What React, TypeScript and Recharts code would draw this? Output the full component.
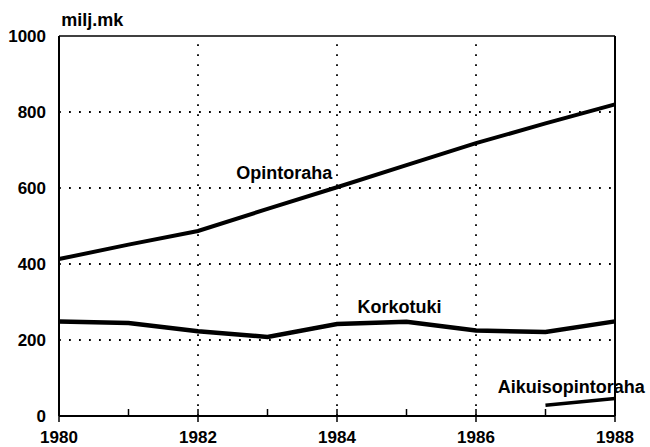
import React from "react";
import { LineChart, Line, XAxis, YAxis, ReferenceLine, ReferenceDot } from "recharts";

const years = [1980, 1981, 1982, 1983, 1984, 1985, 1986, 1987, 1988];
const opintoraha = [413, 451, 487, 545, 602, 660, 718, 770, 820];
const korkotuki = [249, 245, 223, 208, 242, 248, 225, 221, 249];
const aikuisopintoraha: (number | null)[] = [null, null, null, null, null, null, null, 28, 46];
const yTicks = [0, 200, 400, 600, 800, 1000];
const xLabelYears = [1980, 1982, 1984, 1986, 1988];
const gridYears = [1982, 1984, 1986];
const gridValues = [200, 400, 600, 800];

const data = years.map((y, i) => ({
  year: y,
  opintoraha: opintoraha[i],
  korkotuki: korkotuki[i],
  aikuis: aikuisopintoraha[i],
}));

const FONT = "'Liberation Sans', Arial, Helvetica, sans-serif";

const XTick = (props: any) => {
  const { x, y, payload } = props;
  const v = payload.value;
  const major = xLabelYears.includes(v);
  return (
    <g>
      <line x1={x} x2={x} y1={y - 7} y2={major ? y + 6 : y} stroke="#000" strokeWidth={1.5} />
      {major && (
        <text x={x} y={y + 26.5} textAnchor="middle" fontFamily={FONT} fontWeight="bold" fontSize={17} fill="#000">
          {v}
        </text>
      )}
    </g>
  );
};

const textLabel = (value: string) => ({
  value,
  position: "center" as const,
  fontFamily: FONT,
  fontWeight: "bold",
  fontSize: 18,
  fill: "#000",
});

export default function App() {
  return (
    <div style={{ position: "absolute", left: 0, top: 0, background: "#fff" }}>
      <LineChart width={650} height={447} data={data} margin={{ top: 36, right: 35, left: 0, bottom: 0 }}>
        <XAxis
          dataKey="year"
          type="number"
          domain={[1980, 1988]}
          ticks={years}
          interval={0}
          tickSize={0}
          tickMargin={0}
          tickLine={false}
          tick={<XTick />}
          height={31}
          axisLine={{ stroke: "#000", strokeWidth: 2 }}
        />
        <YAxis
          type="number"
          domain={[0, 1000]}
          ticks={yTicks}
          interval={0}
          width={59}
          tickLine={false}
          tickMargin={7}
          axisLine={{ stroke: "#000", strokeWidth: 2 }}
          tick={{ fontFamily: FONT, fontWeight: "bold", fontSize: 17, fill: "#000" }}
        />
        {gridValues.map((v) => (
          <ReferenceLine key={"h" + v} y={v} stroke="#000" strokeWidth={1.8} strokeDasharray="1.8 8.2" />
        ))}
        {gridYears.map((v) => (
          <ReferenceLine key={"v" + v} x={v} stroke="#000" strokeWidth={1.8} strokeDasharray="1.8 8.2" />
        ))}
        <ReferenceLine y={1000} stroke="#000" strokeWidth={1.5} />
        <ReferenceLine x={1988} stroke="#000" strokeWidth={2} />
        <Line dataKey="opintoraha" stroke="#000" strokeWidth={4} dot={false} isAnimationActive={false} />
        <Line dataKey="korkotuki" stroke="#000" strokeWidth={4.5} dot={false} isAnimationActive={false} />
        <Line dataKey="aikuis" stroke="#000" strokeWidth={3.5} dot={false} isAnimationActive={false} connectNulls={false} />
        <ReferenceDot x={1983.24} y={640} r={0} fill="none" stroke="none" ifOverflow="visible" label={textLabel("Opintoraha")} />
        <ReferenceDot x={1984.9} y={288} r={0} fill="none" stroke="none" ifOverflow="visible" label={textLabel("Korkotuki")} />
        <ReferenceDot x={1987.37} y={78} r={0} fill="none" stroke="none" ifOverflow="visible" label={textLabel("Aikuisopintoraha")} />
        <ReferenceDot x={1980.48} y={1042} r={0} fill="none" stroke="none" ifOverflow="visible" label={textLabel("milj.mk")} />
      </LineChart>
    </div>
  );
}
